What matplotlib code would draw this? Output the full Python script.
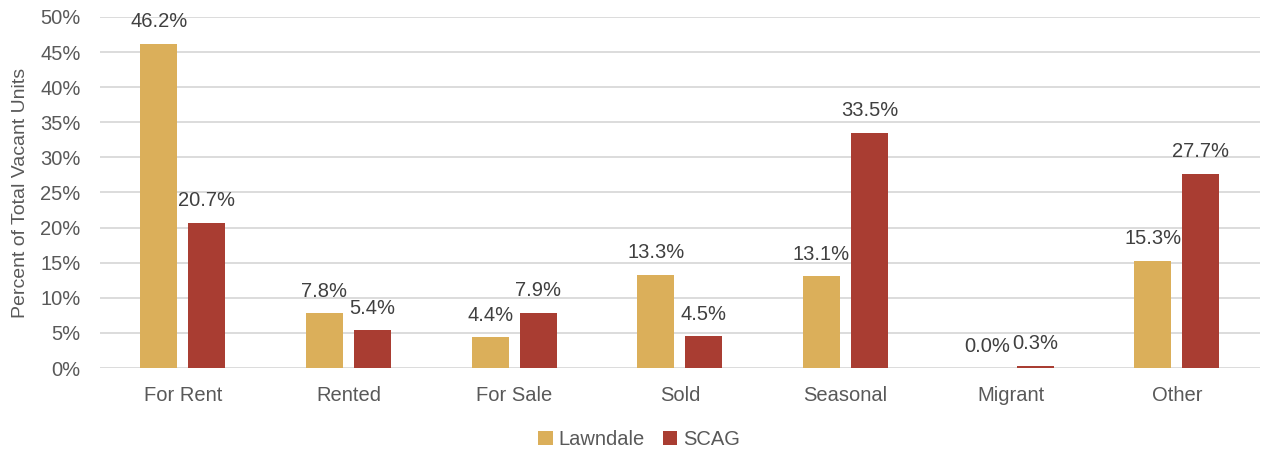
import numpy as np
import matplotlib.pyplot as plt
from matplotlib.ticker import PercentFormatter

categories = ["For Rent", "Rented", "For Sale", "Sold", "Seasonal", "Migrant", "Other"]
lawndale = [46.2, 7.8, 4.4, 13.3, 13.1, 0.0, 15.3]
scag = [20.7, 5.4, 7.9, 4.5, 33.5, 0.3, 27.7]

gold = "#DBAF5A"
red = "#A93D32"
txt = "#595959"

plt.rcParams['font.family'] = ['Liberation Sans', 'DejaVu Sans']

fig = plt.figure(figsize=(12.62, 4.53), dpi=100)
ax = fig.add_axes([0.0792, 0.1876, 0.919, 0.775])

x = np.arange(len(categories))
w = 0.223
off = 0.145
b1 = ax.bar(x - off, lawndale, w, color=gold, label="Lawndale", zorder=3)
b2 = ax.bar(x + off, scag, w, color=red, label="SCAG", zorder=3)

for bars in (b1, b2):
    for r in bars:
        h = r.get_height()
        ax.annotate(f"{h:.1f}%", (r.get_x() + r.get_width() / 2, h),
                    xytext=(0, 9), textcoords="offset points",
                    ha="center", va="bottom", fontsize=14.5, color="#404040")

ax.set_xlim(-0.5, len(categories) - 0.5)
ax.set_ylim(0, 50)
ax.set_yticks(np.arange(0, 51, 5))
ax.yaxis.set_major_formatter(PercentFormatter(decimals=0))
ax.set_xticks(x)
ax.set_xticklabels(categories)
ax.tick_params(axis="both", length=0, labelsize=14.5, labelcolor=txt)
ax.tick_params(axis="x", pad=13)
ax.tick_params(axis="y", pad=14)
ax.grid(axis="y", color="#D9D9D9", linewidth=1.3, zorder=0)
for s in ax.spines.values():
    s.set_visible(False)

ax.set_ylabel("Percent of Total Vacant Units", fontsize=14, color=txt, labelpad=8)

ax.legend(loc="center", bbox_to_anchor=(0.465, -0.205), ncol=2, frameon=False,
          fontsize=14.5, labelcolor=txt, handlelength=0.7, handleheight=0.7,
          handletextpad=0.3, columnspacing=0.9)

fig.savefig("out.png", dpi=100)
